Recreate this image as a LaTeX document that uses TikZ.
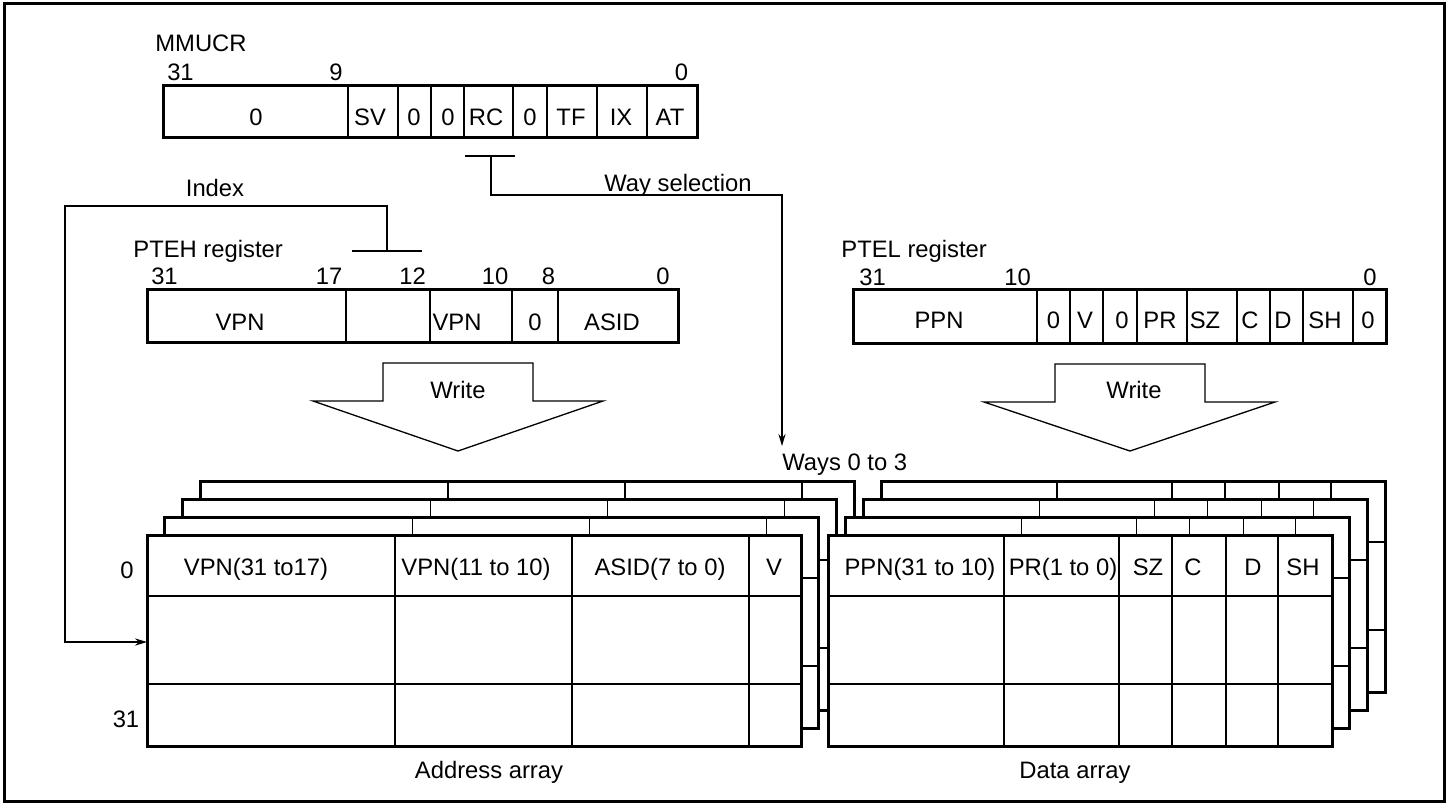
\documentclass[tikz,border=0pt]{standalone}
\usepackage{fontspec}
\setmainfont{Liberation Sans}
\usetikzlibrary{arrows.meta, positioning}

\begin{document}
\begin{tikzpicture}[x=0.5pt, y=-0.5pt,
  font=\fontsize{11.9}{14}\selectfont,
  lbl/.style={anchor=base, inner sep=0pt},
  lblw/.style={anchor=base west, inner sep=0pt},
  regbox/.style={line width=1.5pt},
  regdiv/.style={line width=1pt},
  arrbox/.style={line width=1.5pt},
  arrline/.style={line width=0.65pt},
  conn/.style={line width=0.65pt},
  arrowhd/.style={-{Stealth[length=6pt, width=3.6pt]}},
  wrarrow/.style={line width=0.65pt, line join=miter}]
  % 外枠
  \useasboundingbox (0,0) rectangle (1450,805);
  \draw[line width=1.5pt] (4.5,3.5) rectangle (1444.5,801.5);

  % MMUCR
  \node[lblw] (mmucr) at (155,51.5) {MMUCR};
  \node[lbl] (mmucr-b31) at (180.5,80.5) {31};
  \node[lbl] (mmucr-b9) at (336,80.5) {9};
  \node[lbl] (mmucr-b0) at (681.5,80.5) {0};
  \foreach \d in {348,398,431,464,513,547,597,647}
    \draw[regdiv] (\d,85) -- (\d,137);
  \draw[regbox] (163,85) rectangle (697,137);
  \foreach \x/\t [count=\i] in {256/0, 370/SV, 414/0, 448/0, 486/RC, 530/0, 571/TF, 621/IX, 670/AT}
    \node[lbl] (mmucr-\i) at (\x,125) {\t};

  % ウェイ選択
  \coordinate (rcsel) at (491,156);
  \coordinate (wayin) at (782,446);
  \draw[conn] (465,156) -- (515,156);
  \draw[conn, arrowhd] (rcsel) -- (491,195) -| (wayin);
  \node[lbl] (waysel) at (678,191.5) {Way selection};
  \node[lblw] (ways) at (782,470.5) {Ways 0 to 3};

  % インデックス
  \coordinate (idxsel) at (387,251);
  \coordinate (addrin) at (147,642);
  \draw[conn] (352,251) -- (422,251);
  \draw[conn, arrowhd] (idxsel) |- (65,206) |- (addrin);
  \node[lbl] (index) at (215,196.5) {Index};

  % PTEH
  \node[lblw] (pteh) at (133,257.5) {PTEH register};
  \foreach \x/\t in {164.5/31, 329/17, 412.5/12, 495/10, 548.5/8, 663/0}
    \node[lbl] (pteh-b\t) at (\x,284.5) {\t};
  \foreach \d in {346,430,512,558}
    \draw[regdiv] (\d,289) -- (\d,342);
  \draw[regbox] (147,289) rectangle (678,342);
  \foreach \x/\t [count=\i] in {240/VPN, 457/VPN, 535/0, 612/ASID}
    \node[lbl] (pteh-\i) at (\x,330.5) {\t};

  % PTEL
  \node[lblw] (ptel) at (841,257.5) {PTEL register};
  \foreach \x/\t in {872.5/31, 1017.5/10, 1370/0}
    \node[lbl] (ptel-b\t) at (\x,285) {\t};
  \foreach \d in {1037,1070,1103,1137,1187,1237,1270,1303,1353}
    \draw[regdiv] (\d,289) -- (\d,343);
  \draw[regbox] (853,289) rectangle (1386,343);
  \foreach \x/\t [count=\i] in {939/PPN, 1053.5/0, 1085/V, 1122/0, 1160/PR, 1205/SZ, 1250/C, 1283/D, 1325/SH, 1368/0}
    \node[lbl] (ptel-\i) at (\x,328) {\t};

  % 書き込み矢印
  \draw[wrarrow] (383,363) -- (533,363) -- (533,401) -- (603,401) -- (458,451) -- (313,401) -- (383,401) -- cycle;
  \node[lbl] (wrh) at (458,398.5) {Write};
  \draw[wrarrow] (1055,364) -- (1205,364) -- (1205,402) -- (1275,402) -- (1130,451) -- (984,402) -- (1055,402) -- cycle;
  \node[lbl] (wrl) at (1134,398.5) {Write};

  % アドレスアレイ（ウェイ3から0へ）
  \foreach \k in {3,2,1,0} {
    \begin{scope}[shift={(17.7*\k,-18*\k)}]
      \fill[white] (147,535) rectangle (801,746);
      \foreach \c in {395,572,749} \draw[arrline] (\c,535) -- (\c,746);
      \foreach \r in {596,684} \draw[arrline] (147,\r) -- (801,\r);
      \draw[arrbox] (147,535) rectangle (801,746);
    \end{scope}
  }
  \foreach \x/\t [count=\i] in {256/VPN(31 to17), 476/VPN(11 to 10), 660/ASID(7 to 0), 774/V}
    \node[lbl] (addr-\i) at (\x,575) {\t};
  \node[lbl] (row0) at (127,578) {0};
  \node[lbl] (row31) at (126,727) {31};
  \node[lbl] (addr) at (489,778.5) {Address array};

  % データアレイ
  \foreach \k in {3,2,1,0} {
    \begin{scope}[shift={(17.7*\k,-18*\k)}]
      \fill[white] (828,535) rectangle (1332,746);
      \foreach \c in {1004,1119,1172,1226,1278} \draw[arrline] (\c,535) -- (\c,746);
      \foreach \r in {596,684} \draw[arrline] (828,\r) -- (1332,\r);
      \draw[arrbox] (828,535) rectangle (1332,746);
    \end{scope}
  }
  \foreach \x/\t [count=\i] in {920/PPN(31 to 10), 1063/PR(1 to 0), 1148/SZ, 1193/C, 1253/D, 1303/SH}
    \node[lbl] (data-\i) at (\x,575) {\t};
  \node[lbl] (data) at (1075,778.5) {Data array};
\end{tikzpicture}
\end{document}
